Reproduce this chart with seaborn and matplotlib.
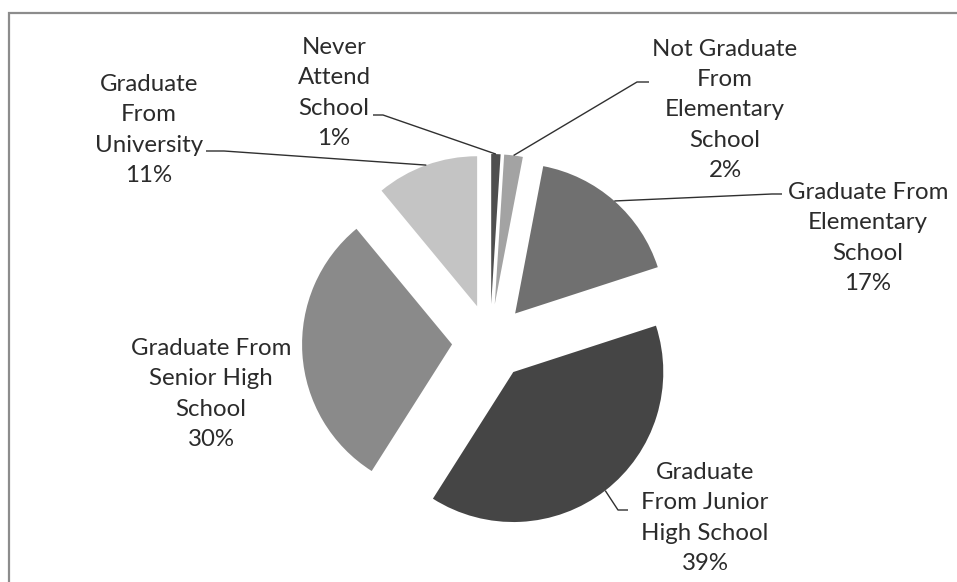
import numpy as np
import matplotlib
matplotlib.use("Agg")
import matplotlib.pyplot as plt
import matplotlib.patches as mpatches
import seaborn as sns

# data
categories = ["Never\nAttend\nSchool", "Not Graduate\nFrom\nElementary\nSchool",
              "Graduate From\nElementary\nSchool", "Graduate\nFrom Junior\nHigh School",
              "Graduate From\nSenior High\nSchool", "Graduate\nFrom\nUniversity"]
shares = [1, 2, 17, 39, 30, 11]
colors = ["#4f4f4f", "#a3a3a3", "#707070", "#454545", "#8a8a8a", "#c4c4c4"]

# layout (pixels, origin top-left)
W, H = 957, 582
label_xy = [(334, 93), (725, 110), (868, 238), (705, 518), (211, 394), (149, 130)]
# leader start (near text) and elbow, None = no leader
leader_start = [[(373, 115), (383, 115)],
                [(649, 82), (637, 82)],
                [(782, 194), (772, 194)],
                [(628, 510), (618, 510)],
                None,
                [(206, 151), (224, 151)]]

sns.set_theme(style="white")
plt.rcParams["font.family"] = ["Lato", "DejaVu Sans"]

fig = plt.figure(figsize=(W / 100, H / 100), dpi=100)
ax = fig.add_axes([0, 0, 1, 1])

cx, cy, r = 490, H - 342, 150
wedges, _ = ax.pie(shares, colors=colors, startangle=90, counterclock=False,
                   explode=[38] * len(shares), radius=r, center=(cx, cy),
                   frame=True, wedgeprops=dict(linewidth=0))
ax.set_xlim(0, W)
ax.set_ylim(0, H)
ax.axis("off")

for i, w in enumerate(wedges):
    lx, ly = label_xy[i]
    ax.text(lx, H - ly, f"{categories[i]}\n{shares[i]}%", ha="center", va="center",
            fontsize=17.3, color="#2b2b2b", linespacing=1.55)
    if leader_start[i] is None:
        continue
    mid = np.deg2rad((w.theta1 + w.theta2) / 2)
    ex = w.center[0] + w.r * np.cos(mid)
    ey = w.center[1] + w.r * np.sin(mid)
    pts = [(x, H - y) for x, y in leader_start[i]] + [(ex, ey)]
    xs, ys = zip(*pts)
    ax.plot(xs, ys, color="#303030", lw=1.0, solid_capstyle="butt")

border = mpatches.Rectangle((9, -20), W + 40, H - 13 + 20, fill=False,
                            edgecolor="#8c8c8c", lw=1.6, clip_on=False)
ax.add_patch(border)

fig.savefig("out.png", dpi=100)
